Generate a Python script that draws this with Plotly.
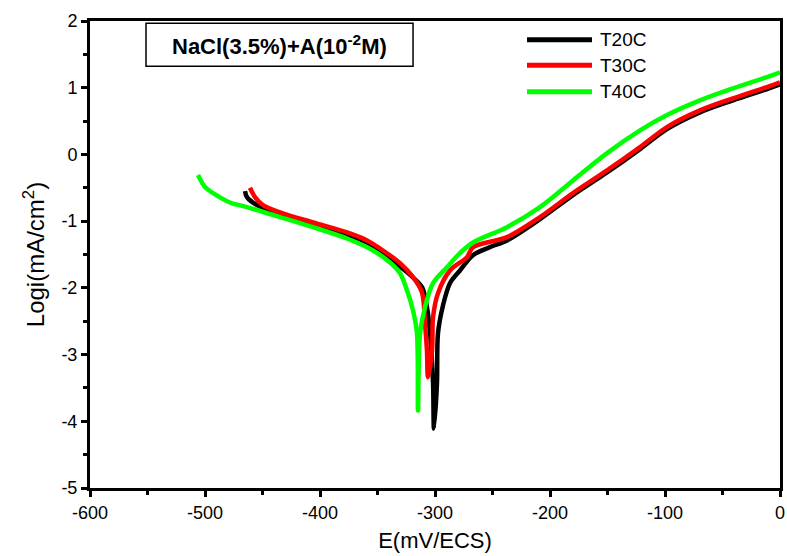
import plotly.graph_objects as go

# Potentiodynamic polarisation curves (Tafel plots), NaCl 3.5 % + inhibitor A 1e-2 M
series_names = ["T20C", "T30C", "T40C"]
series_colors = ["#000000", "#ff0000", "#00ff00"]

E_t20 = [-465.2, -463.5, -454.8, -434.8, -406.1, -376.5, -353.9, -334.8, -320.0, -311.3,
         -307.0, -304.3, -301.7, -300.9, -298.3, -297.4, -293.0, -287.0, -278.3, -267.0,
         -252.2, -237.4, -208.7, -180.0, -150.4, -121.7, -98.3, -69.6, -40.9, -11.3, 0.0]
logi_t20 = [-0.55, -0.64, -0.76, -0.90, -1.06, -1.20, -1.37, -1.62, -1.83, -1.99,
            -2.29, -2.68, -3.43, -4.11, -3.43, -2.68, -2.26, -1.93, -1.74, -1.51,
            -1.39, -1.29, -0.97, -0.61, -0.27, 0.08, 0.38, 0.63, 0.81, 0.98, 1.05]

E_t30 = [-460.9, -456.5, -449.6, -434.8, -406.1, -376.5, -359.1, -345.2, -330.4, -319.1,
         -311.3, -308.7, -307.0, -306.1, -302.6, -301.7, -297.4, -287.0, -272.2, -267.0,
         -237.4, -208.7, -180.0, -150.4, -121.7, -98.3, -69.6, -40.9, -11.3, 0.0]
logi_t30 = [-0.50, -0.64, -0.76, -0.87, -1.02, -1.17, -1.29, -1.44, -1.63, -1.84,
            -2.07, -2.53, -2.94, -3.34, -2.94, -2.44, -2.08, -1.74, -1.54, -1.39,
            -1.24, -0.94, -0.58, -0.24, 0.11, 0.41, 0.66, 0.84, 1.01, 1.08]

E_t40 = [-506.1, -500.0, -493.0, -478.3, -463.5, -434.8, -406.1, -376.5, -353.9, -339.1,
         -330.4, -324.3, -319.1, -315.7, -314.8, -313.0, -308.7, -301.7, -289.6, -278.3,
         -267.0, -237.4, -208.7, -180.0, -150.4, -121.7, -98.3, -69.6, -40.9, -11.3, 0.0]
logi_t40 = [-0.31, -0.49, -0.58, -0.72, -0.79, -0.94, -1.09, -1.26, -1.44, -1.62,
            -1.78, -2.04, -2.34, -2.68, -3.84, -2.68, -2.29, -1.93, -1.69, -1.48,
            -1.32, -1.09, -0.79, -0.39, 0.02, 0.36, 0.59, 0.81, 0.99, 1.16, 1.23]

x_ticks = [-600, -500, -400, -300, -200, -100, 0]
x_tick_labels = ["-600", "-500", "-400", "-300", "-200", "-100", "0"]
y_ticks = [-5, -4, -3, -2, -1, 0, 1, 2]
y_tick_labels = ["-5", "-4", "-3", "-2", "-1", "0", "1", "2"]

FONT = "Liberation Sans, Arial, sans-serif"

fig = go.Figure()
for name, color, xs, ys in zip(series_names, series_colors,
                               [E_t20, E_t30, E_t40], [logi_t20, logi_t30, logi_t40]):
    fig.add_trace(go.Scatter(x=xs, y=ys, mode="lines", name=name,
                             line=dict(color=color, width=4.5, shape="spline", smoothing=0.9),
                             showlegend=False))

# Hand-drawn legend with long line samples
legend_y = [1.72, 1.335, 0.94]
for name, color, ly in zip(series_names, series_colors, legend_y):
    fig.add_shape(type="line", x0=-220, x1=-163.5, y0=ly, y1=ly,
                  line=dict(color=color, width=5))
    fig.add_annotation(x=-158.5, y=ly, text=name, showarrow=False, xanchor="left",
                       yanchor="middle", font=dict(family=FONT, size=19, color="black"))

# Boxed label for the test solution
fig.add_shape(type="rect", x0=-551.3, x1=-319.1, y0=1.32, y1=1.966,
              line=dict(color="black", width=1.5), fillcolor="white")
fig.add_annotation(x=-435.2, y=1.643, text="<b>NaCl(3.5%)+A(10<sup>-2</sup>M)</b>",
                   showarrow=False, xanchor="center", yanchor="middle",
                   font=dict(family=FONT, size=22, color="black"))

axis_common = dict(showline=True, linecolor="black", linewidth=3, mirror=True,
                   showgrid=False, zeroline=False, ticks="outside", ticklen=6,
                   tickwidth=3, tickcolor="black", automargin=False,
                   tickfont=dict(family=FONT, size=18, color="black"))

fig.update_xaxes(range=[-600, 0], tickvals=x_ticks, ticktext=x_tick_labels,
                 minor=dict(dtick=50, ticks="outside", ticklen=4, tickwidth=3,
                            tickcolor="black", showgrid=False),
                 title=dict(text="E(mV/ECS)", font=dict(family=FONT, size=22, color="black"),
                            standoff=12),
                 **axis_common)
fig.update_yaxes(range=[-5, 2], tickvals=y_ticks, ticktext=y_tick_labels,
                 minor=dict(dtick=0.5, ticks="outside", ticklen=4, tickwidth=3,
                            tickcolor="black", showgrid=False),
                 title=dict(text="Logi(mA/cm<sup>2</sup>)",
                            font=dict(family=FONT, size=24, color="black"), standoff=10),
                 **axis_common)

fig.update_layout(width=787, height=556, plot_bgcolor="white", paper_bgcolor="white",
                  margin=dict(l=90, r=7, t=21, b=68), showlegend=False)

fig.write_html("out.html")
